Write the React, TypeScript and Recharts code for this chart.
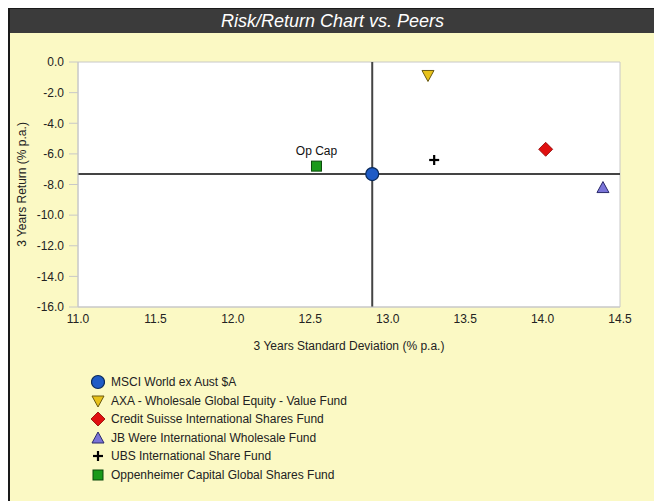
import React from 'react';
import {
  ScatterChart, Scatter, XAxis, YAxis, ReferenceArea, ReferenceLine, Label, LabelList,
} from 'recharts';

const seriesNames = [
  'MSCI World ex Aust $A',
  'AXA - Wholesale Global Equity - Value Fund',
  'Credit Suisse International Shares Fund',
  'JB Were International Wholesale Fund',
  'UBS International Share Fund',
  'Oppenheimer Capital Global Shares Fund',
];
const stdDev = [12.9, 13.26, 14.02, 14.39, 13.3, 12.54];
const returns = [-7.32, -0.88, -5.7, -8.2, -6.4, -6.8];
const pointLabels = ['', '', '', '', '', 'Op Cap'];
const markerKinds = ['circle', 'triangleDown', 'diamond', 'triangleUp', 'plus', 'square'];
const markerColors = ['#1e5bc6', '#e8c21a', '#e01010', '#7a74d8', '#000000', '#1a9a1a'];

const xTicks = [11.0, 11.5, 12.0, 12.5, 13.0, 13.5, 14.0, 14.5];
const yTicks = [0, -2, -4, -6, -8, -10, -12, -14, -16];

const FONT = 'Arial, "Liberation Sans", sans-serif';

function Marker({ kind, color, cx, cy }: { kind: string; color: string; cx: number; cy: number }) {
  switch (kind) {
    case 'circle':
      return <circle cx={cx} cy={cy} r={6.5} fill={color} stroke="#0a2a5a" strokeWidth={1.2} />;
    case 'triangleDown':
      return <polygon points={`${cx - 6},${cy - 5} ${cx + 6},${cy - 5} ${cx},${cy + 6}`} fill={color} stroke="#6a5a10" strokeWidth={1} />;
    case 'triangleUp':
      return <polygon points={`${cx - 6},${cy + 5} ${cx + 6},${cy + 5} ${cx},${cy - 6}`} fill={color} stroke="#2a2a6a" strokeWidth={1} />;
    case 'diamond':
      return <polygon points={`${cx},${cy - 7} ${cx + 7},${cy} ${cx},${cy + 7} ${cx - 7},${cy}`} fill={color} stroke="#8a0000" strokeWidth={0.8} />;
    case 'plus':
      return (
        <g stroke={color} strokeWidth={2.2}>
          <line x1={cx - 5} y1={cy} x2={cx + 5} y2={cy} />
          <line x1={cx} y1={cy - 5} x2={cx} y2={cy + 5} />
        </g>
      );
    case 'square':
      return <rect x={cx - 5} y={cy - 5} width={10} height={10} fill={color} stroke="#0a4a0a" strokeWidth={1} />;
    default:
      return null;
  }
}

const PointLabel = (props: any) => {
  const { x, y, width, value } = props;
  if (!value) return null;
  return (
    <text
      x={x + (width || 0) / 2}
      y={y - 7}
      textAnchor="middle"
      fill="#111"
      fontSize={12}
      fontFamily={FONT}
    >
      {value}
    </text>
  );
};

export default function App() {
  const data = seriesNames.map((name, i) => ({
    name,
    x: stdDev[i],
    y: returns[i],
    label: pointLabels[i],
  }));

  return (
    <div
      style={{
        position: 'relative',
        width: 645,
        height: 492,
        borderLeft: '2px solid #1a1a1a',
        borderTop: '1px solid #1a1a1a',
        borderRight: '2px solid #777',
        background: '#fbf9c4',
        fontFamily: FONT,
      }}
    >
      <div
        style={{
          height: 24,
          background: '#3b3b3b',
          color: '#fff',
          fontStyle: 'italic',
          fontSize: 18,
          lineHeight: '24px',
          textAlign: 'center',
          fontFamily: FONT,
        }}
      >
        Risk/Return Chart vs. Peers
      </div>
      <ScatterChart
        width={645}
        height={324}
        margin={{ top: 29, right: 35, left: 0, bottom: 0 }}
      >
        <XAxis
          type="number"
          dataKey="x"
          domain={[11, 14.5]}
          ticks={xTicks}
          tickFormatter={(v: number) => v.toFixed(1)}
          tick={{ fill: '#222', fontSize: 12, fontFamily: FONT }}
          tickLine={false}
          tickSize={4}
          tickMargin={3}
          axisLine={{ stroke: '#c8c8c8' }}
          height={50}
          allowDataOverflow
        >
          <Label
            value="3 Years Standard Deviation (% p.a.)"
            position="insideBottom"
            offset={7}
            style={{ fill: '#222', fontSize: 12, fontFamily: FONT }}
          />
        </XAxis>
        <YAxis
          type="number"
          dataKey="y"
          domain={[-16, 0]}
          ticks={yTicks}
          tickFormatter={(v: number) => v.toFixed(1)}
          tick={{ fill: '#222', fontSize: 12, fontFamily: FONT }}
          tickLine={{ stroke: '#c8c8c8' }}
          tickSize={9}
          tickMargin={5}
          axisLine={{ stroke: '#c8c8c8' }}
          width={68}
          allowDataOverflow
        >
          <Label
            value="3 Years Return (% p.a.)"
            angle={-90}
            position="insideLeft"
            offset={12}
            style={{ fill: '#222', fontSize: 12, fontFamily: FONT, textAnchor: 'middle' }}
          />
        </YAxis>
        <ReferenceArea x1={11} x2={14.5} y1={-16} y2={0} fill="#ffffff" fillOpacity={1} stroke="#c8c8c8" strokeWidth={1} />
        <ReferenceLine x={stdDev[0]} stroke="#444" strokeWidth={2} />
        <ReferenceLine y={returns[0]} stroke="#444" strokeWidth={2} />
        {data.map((d, i) => (
          <Scatter
            key={d.name}
            name={d.name}
            data={[d]}
            isAnimationActive={false}
            shape={(p: any) => <Marker kind={markerKinds[i]} color={markerColors[i]} cx={p.cx} cy={p.cy} />}
          >
            {d.label ? <LabelList dataKey="label" content={PointLabel} /> : null}
          </Scatter>
        ))}
      </ScatterChart>
      <div style={{ position: 'absolute', left: 81, top: 364 }}>
        {seriesNames.map((name, i) => (
          <div key={name} style={{ display: 'flex', alignItems: 'center', height: 18.5 }}>
            <svg width={14} height={16} style={{ marginRight: 6 }}>
              <Marker kind={markerKinds[i]} color={markerColors[i]} cx={7} cy={8} />
            </svg>
            <span style={{ fontSize: 12, color: '#222', fontFamily: FONT }}>{name}</span>
          </div>
        ))}
      </div>
    </div>
  );
}
